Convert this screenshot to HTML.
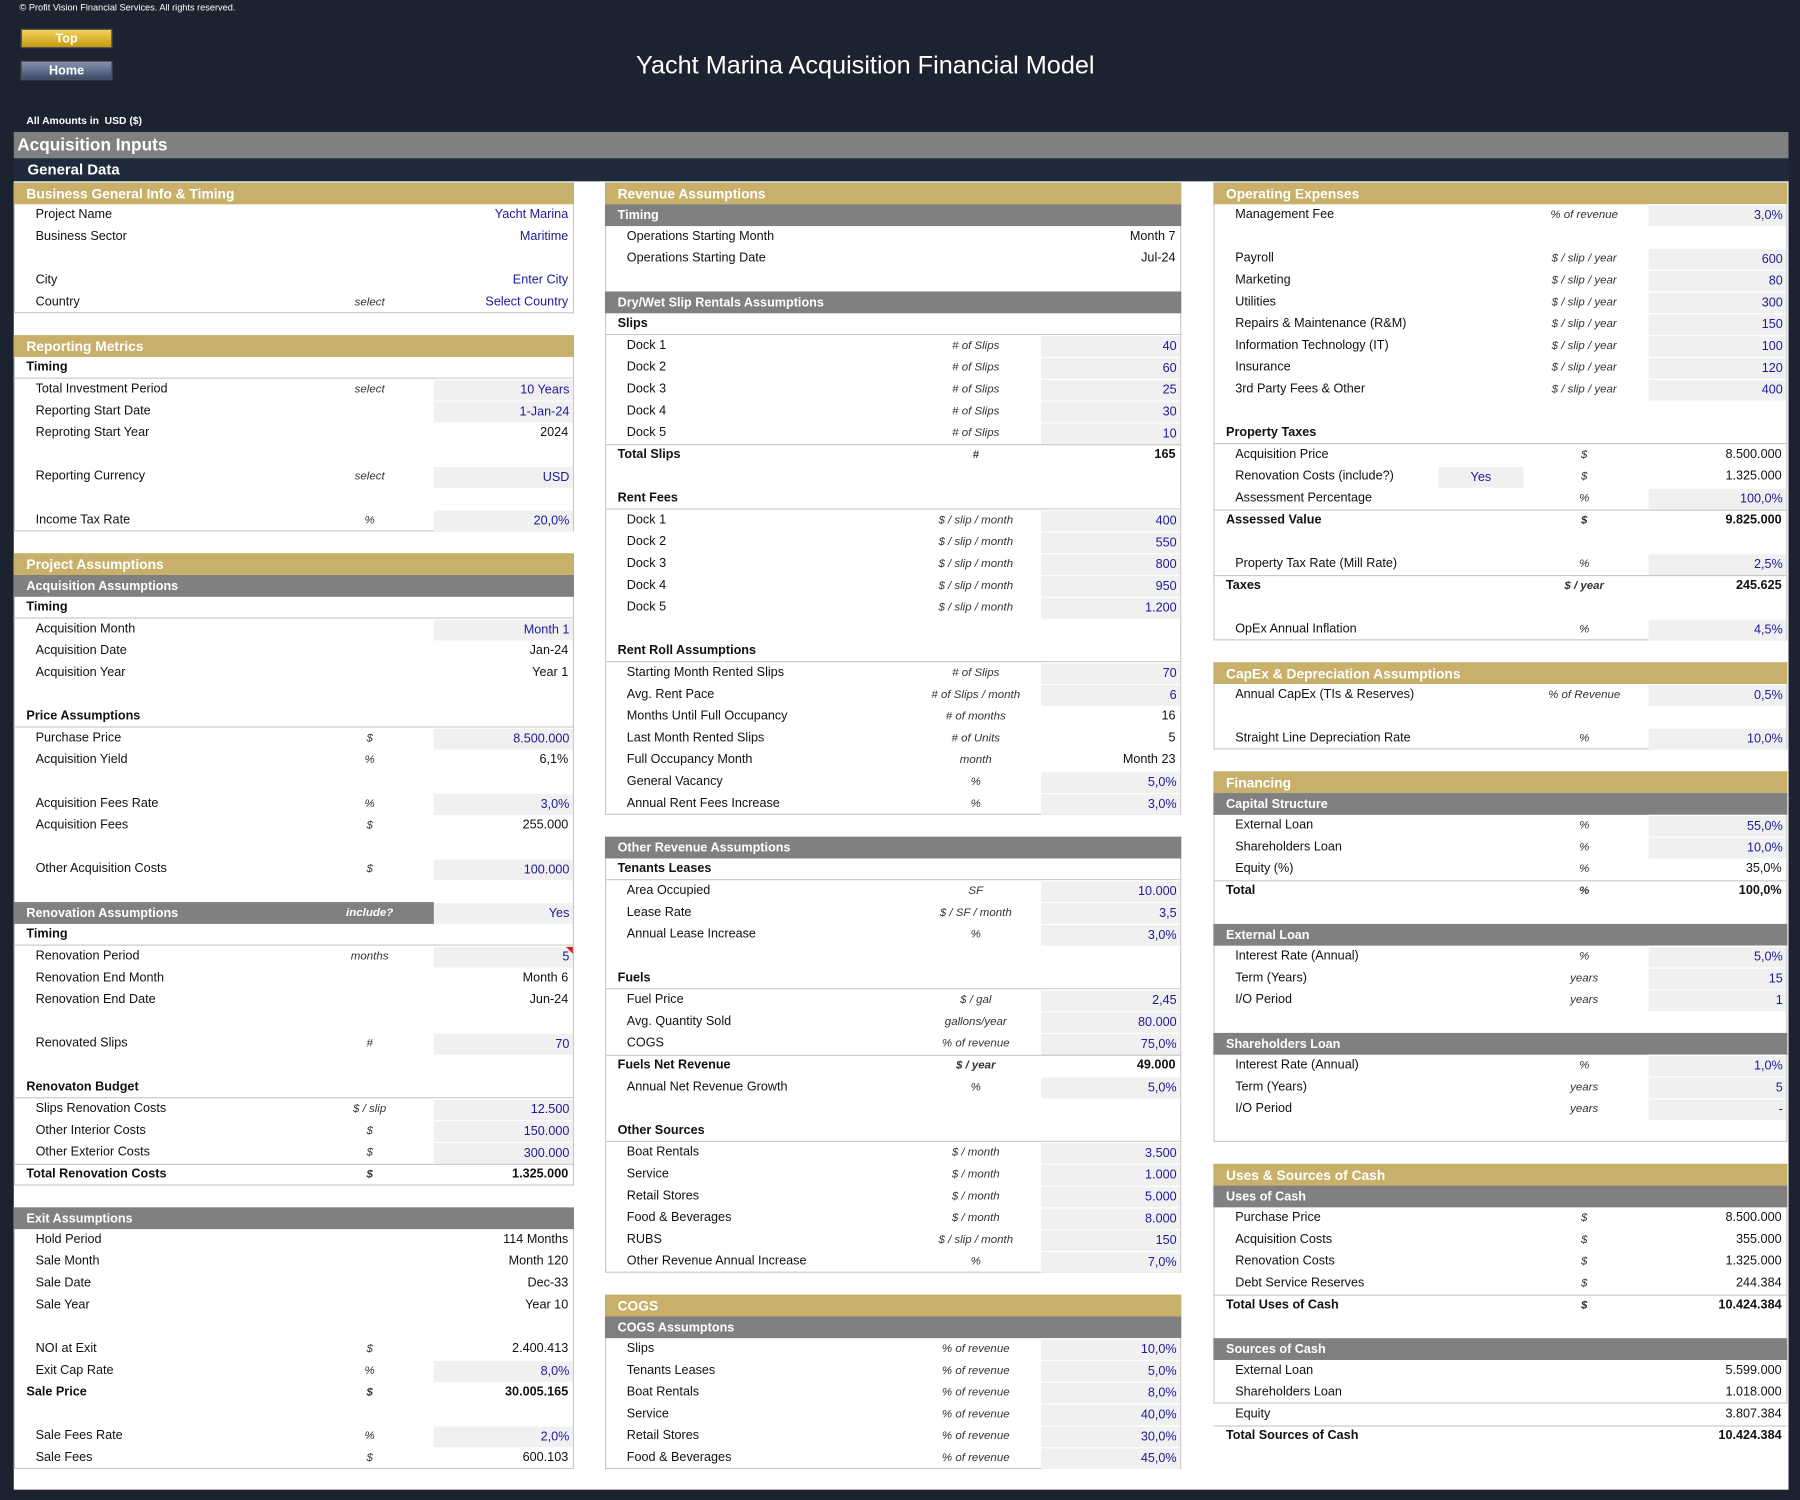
<!DOCTYPE html>
<html><head><meta charset="utf-8">
<style>
html,body{margin:0;padding:0;width:1800px;height:1500px;overflow:hidden;background:#1c2230;}
#root{position:absolute;left:0;top:0;width:1568px;height:1307px;transform:scale(1.14796,1.14767);transform-origin:0 0;background:#1c2230;font-family:"Liberation Sans",sans-serif;}
.a{position:absolute;white-space:nowrap;}
.btn{position:absolute;left:18px;width:80px;height:17px;font-weight:bold;font-size:11px;color:#fff;text-align:center;line-height:17px;border:1px solid #555;box-sizing:border-box;}
.t{font-size:11px;color:#111;line-height:19px;}
.u{font-size:10px;font-style:italic;color:#333;line-height:19px;text-align:center;width:110px;}
.v{font-size:11px;line-height:19px;text-align:right;}
.inp{background:#f0f0f0;border-top:1px solid #fff;box-sizing:border-box;}
</style></head><body>
<div id="root">
  <div class="a" style="left:17px;top:2px;font-size:8px;color:#fff;">© Profit Vision Financial Services. All rights reserved.</div>
  <div class="btn" style="top:25px;background:linear-gradient(#f2d35a,#c59a12);">Top</div>
  <div class="btn" style="top:53px;background:linear-gradient(#8593b0,#3c4a6a);">Home</div>
  <div class="a" style="left:554px;top:44px;font-size:22px;color:#fff;">Yacht Marina Acquisition Financial Model</div>
  <div class="a" style="left:23px;top:100px;font-size:9px;font-weight:bold;color:#fff;">All Amounts in&nbsp; USD ($)</div>
  <div class="a" style="left:12px;top:115px;width:1546px;height:23px;background:#808080;color:#fff;font-weight:bold;font-size:15px;line-height:23px;padding-left:3px;box-sizing:border-box;">Acquisition Inputs</div>
  <div class="a" style="left:12px;top:138px;width:1546px;height:20px;background:#1f2a3c;color:#fff;font-weight:bold;font-size:13px;line-height:20px;padding-left:12px;box-sizing:border-box;">General Data</div>
  <div class="a" style="left:12px;top:158px;width:1546px;height:1140px;background:#fff;"></div>
  <div id="cols"></div>
</div>
<script>
const cols=[
 {x:12,w:488,ux:267,ix:378,name:'column-left'},
 {x:527,w:502,ux:795,ix:907,name:'column-middle'},
 {x:1057,w:500,ux:1325,ix:1436,name:'column-right'}
];
const boxes=[[0,0,5],[0,7,15],[0,17,45],[0,47,58],[1,0,28],[1,30,49],[1,51,58],[2,0,20],[2,22,25],[2,27,43],[2,45,55]];
// [k,type,label,unit,value,input]
const col1=[
[0,'gold','Business General Info & Timing'],
[1,'row','Project Name','','Yacht Marina','b'],
[2,'row','Business Sector','','Maritime','b'],
[4,'row','City','','Enter City','b'],
[5,'row','Country','select','Select Country','b'],
[7,'gold','Reporting Metrics'],
[8,'sub','Timing'],
[9,'row','Total Investment Period','select','10 Years','i'],
[10,'row','Reporting Start Date','','1-Jan-24','i'],
[11,'row','Reprotign Start Year'.replace('Reprotign','Reproting'),'','2024'],
[13,'row','Reporting Currency','select','USD','i'],
[15,'row','Income Tax Rate','%','20,0%','i'],
[17,'gold','Project Assumptions'],
[18,'gray','Acquisition Assumptions'],
[19,'sub','Timing'],
[20,'row','Acquisition Month','','Month 1','i'],
[21,'row','Acquisition Date','','Jan-24'],
[22,'row','Acquisition Year','','Year 1'],
[24,'sub','Price Assumptions'],
[25,'row','Purchase Price','$','8.500.000','i'],
[26,'row','Acquisition Yield','%','6,1%'],
[28,'row','Acquisition Fees Rate','%','3,0%','i'],
[29,'row','Acquisition Fees','$','255.000'],
[31,'row','Other Acquisition Costs','$','100.000','i'],
[33,'grayi','Renovation Assumptions','include?','Yes','i'],
[34,'sub','Timing'],
[35,'row','Renovation Period','months','5','ir'],
[36,'row','Renovation End Month','','Month 6'],
[37,'row','Renovation End Date','','Jun-24'],
[39,'row','Renovated Slips','#','70','i'],
[41,'sub','Renovaton Budget'],
[42,'row','Slips Renovation Costs','$ / slip','12.500','i'],
[43,'row','Other Interior Costs','$','150.000','i'],
[44,'row','Other Exterior Costs','$','300.000','i'],
[45,'total','Total Renovation Costs','$','1.325.000'],
[47,'gray','Exit Assumptions'],
[48,'row','Hold Period','','114 Months'],
[49,'row','Sale Month','','Month 120'],
[50,'row','Sale Date','','Dec-33'],
[51,'row','Sale Year','','Year 10'],
[53,'row','NOI at Exit','$','2.400.413'],
[54,'row','Exit Cap Rate','%','8,0%','i'],
[55,'totalb','Sale Price','$','30.005.165'],
[57,'row','Sale Fees Rate','%','2,0%','i'],
[58,'row','Sale Fees','$','600.103']
];
const col2=[
[0,'gold','Revenue Assumptions'],
[1,'gray','Timing'],
[2,'row','Operations Starting Month','','Month 7'],
[3,'row','Operations Starting Date','','Jul-24'],
[5,'gray','Dry/Wet Slip Rentals Assumptions'],
[6,'sub','Slips'],
[7,'row','Dock 1','# of Slips','40','i'],
[8,'row','Dock 2','# of Slips','60','i'],
[9,'row','Dock 3','# of Slips','25','i'],
[10,'row','Dock 4','# of Slips','30','i'],
[11,'row','Dock 5','# of Slips','10','i'],
[12,'total','Total Slips','#','165'],
[14,'sub','Rent Fees'],
[15,'row','Dock 1','$ / slip / month','400','i'],
[16,'row','Dock 2','$ / slip / month','550','i'],
[17,'row','Dock 3','$ / slip / month','800','i'],
[18,'row','Dock 4','$ / slip / month','950','i'],
[19,'row','Dock 5','$ / slip / month','1.200','i'],
[21,'sub','Rent Roll Assumptions'],
[22,'row','Starting Month Rented Slips','# of Slips','70','i'],
[23,'row','Avg. Rent Pace','# of Slips / month','6','i'],
[24,'row','Months Until Full Occupancy','# of months','16'],
[25,'row','Last Month Rented Slips','# of Units','5'],
[26,'row','Full Occupancy Month','month','Month 23'],
[27,'row','General Vacancy','%','5,0%','i'],
[28,'row','Annual Rent Fees  Increase','%','3,0%','i'],
[30,'gray','Other Revenue Assumptions'],
[31,'sub','Tenants Leases'],
[32,'row','Area Occupied','SF','10.000','i'],
[33,'row','Lease Rate','$ / SF / month','3,5','i'],
[34,'row','Annual Lease Increase','%','3,0%','i'],
[36,'sub','Fuels'],
[37,'row','Fuel Price','$ / gal','2,45','i'],
[38,'row','Avg. Quantity Sold','gallons/year','80.000','i'],
[39,'row','COGS','% of revenue','75,0%','i'],
[40,'total','Fuels Net Revenue','$ / year','49.000'],
[41,'row','Annual Net Revenue Growth','%','5,0%','i'],
[43,'sub','Other Sources'],
[44,'row','Boat Rentals','$ / month','3.500','i'],
[45,'row','Service','$ / month','1.000','i'],
[46,'row','Retail Stores','$ / month','5.000','i'],
[47,'row','Food & Beverages','$ / month','8.000','i'],
[48,'row','RUBS','$ / slip / month','150','i'],
[49,'row','Other Revenue Annual Increase','%','7,0%','i'],
[51,'gold','COGS'],
[52,'gray','COGS Assumptons'],
[53,'row','Slips','% of revenue','10,0%','i'],
[54,'row','Tenants Leases','% of revenue','5,0%','i'],
[55,'row','Boat Rentals','% of revenue','8,0%','i'],
[56,'row','Service','% of revenue','40,0%','i'],
[57,'row','Retail Stores','% of revenue','30,0%','i'],
[58,'row','Food & Beverages','% of revenue','45,0%','i']
];
const col3=[
[0,'gold','Operating Expenses'],
[1,'row','Management Fee','% of revenue','3,0%','i'],
[3,'row','Payroll','$ / slip / year','600','i'],
[4,'row','Marketing','$ / slip / year','80','i'],
[5,'row','Utilities','$ / slip / year','300','i'],
[6,'row','Repairs & Maintenance (R&M)','$ / slip / year','150','i'],
[7,'row','Information Technology (IT)','$ / slip / year','100','i'],
[8,'row','Insurance','$ / slip / year','120','i'],
[9,'row','3rd Party Fees & Other','$ / slip / year','400','i'],
[11,'sub','Property Taxes'],
[12,'row','Acquisition Price','$','8.500.000'],
[13,'rowyes','Renovation Costs (include?)','$','1.325.000'],
[14,'row','Assessment Percentage','%','100,0%','i'],
[15,'total','Assessed Value','$','9.825.000'],
[17,'row','Property Tax Rate (Mill Rate)','%','2,5%','i'],
[18,'total','Taxes','$ / year','245.625'],
[20,'row','OpEx Annual Inflation','%','4,5%','i'],
[22,'gold','CapEx & Depreciation Assumptions'],
[23,'row','Annual CapEx (TIs & Reserves)','% of Revenue','0,5%','i'],
[25,'row','Straight Line Depreciation Rate','%','10,0%','i'],
[27,'gold','Financing'],
[28,'gray','Capital Structure'],
[29,'row','External Loan','%','55,0%','i'],
[30,'row','Shareholders Loan','%','10,0%','i'],
[31,'row','Equity (%)','%','35,0%'],
[32,'total','Total','%','100,0%'],
[34,'gray','External Loan'],
[35,'row','Interest Rate (Annual)','%','5,0%','i'],
[36,'row','Term (Years)','years','15','i'],
[37,'row','I/O Period','years','1','i'],
[39,'gray','Shareholders Loan'],
[40,'row','Interest Rate (Annual)','%','1,0%','i'],
[41,'row','Term (Years)','years','5','i'],
[42,'row','I/O Period','years','-','i'],
[45,'gold','Uses & Sources of Cash'],
[46,'gray','Uses of Cash'],
[47,'row','Purchase Price','$','8.500.000'],
[48,'row','Acquisition Costs','$','355.000'],
[49,'row','Renovation Costs','$','1.325.000'],
[50,'row','Debt Service Reserves','$','244.384'],
[51,'total','Total Uses of Cash','$','10.424.384'],
[53,'gray','Sources of Cash'],
[54,'row','External Loan','','5.599.000'],
[55,'row','Shareholders Loan','','1.018.000'],
[56,'row','Equity','','3.807.384'],
[57,'total','Total Sources of Cash','','10.424.384']
];
const ROW0=159, RH=19;
const host=document.getElementById('cols');
function slug(s){return s.toLowerCase().replace(/[^a-z0-9]+/g,'-').replace(/^-|-$/g,'');}
function mk(name,inter,css,txt,cls){
  const d=document.createElement('div');
  d.className='a'+(cls?' '+cls:'');
  
  
  d.style.cssText=css;
  if(txt!==undefined) d.textContent=txt;
  host.appendChild(d);return d;
}
boxes.forEach(b=>{const c=cols[b[0]];
  mk('section-box',false,`left:${c.x}px;top:${ROW0+RH*b[1]}px;width:${c.w}px;height:${RH*(b[2]-b[1]+1)}px;border:1px solid #c8c8c8;border-top:none;box-sizing:border-box;`);
});
[col1,col2,col3].forEach((rows,ci)=>{
  const c=cols[ci];
  rows.forEach(r=>{
    const [k,type,label,unit,val,flag]=r;
    const y=ROW0+RH*k; const n=slug(label);
    if(type==='gold'){
      mk(n+'-header',false,`left:${c.x}px;top:${y}px;width:${c.w}px;height:${RH}px;background:#c8b06a;color:#fff;font-weight:bold;font-size:12px;line-height:${RH+1}px;padding-left:11px;box-sizing:border-box;`,label);return;}
    if(type==='gray'||type==='grayi'){
      const w=type==='grayi'?c.ix-c.x:c.w;
      mk(n+'-subheader',false,`left:${c.x}px;top:${y}px;width:${w}px;height:${RH}px;background:#808080;color:#fff;font-weight:bold;font-size:11px;line-height:${RH+1}px;padding-left:11px;box-sizing:border-box;`,label);
      if(type==='grayi'){
        mk('include-label',false,`left:${c.ux}px;top:${y}px;color:#fff;font-weight:bold;`,unit,'u');
        mk('include-renovation-input',true,`left:${c.ix}px;top:${y}px;width:${c.x+c.w-c.ix-1}px;height:${RH}px;color:#1a1a9a;padding-right:3px;box-sizing:border-box;`,val,'v inp');
      }
      return;}
    const bold=(type==='sub'||type==='total'||type==='totalb');
    if(type==='sub') mk(n+'-line',false,`left:${c.x}px;top:${y+RH-1}px;width:${c.w}px;height:1px;background:#c8c8c8;`);
    if(type==='total') mk(n+'-line',false,`left:${c.x}px;top:${y}px;width:${c.w}px;height:1px;background:#c8c8c8;`);
    mk(n+'-label',false,`left:${c.x+(bold?11:19)}px;top:${y}px;font-weight:${bold?'bold':'normal'};`,label,'t');
    if(unit) mk(n+'-unit',false,`left:${c.ux}px;top:${y}px;${bold?'font-weight:bold;':''}`,unit,'u');
    if(type==='rowyes') mk('include-renovation-costs-input',true,`left:${c.x+196}px;top:${y}px;width:74px;height:${RH}px;color:#1a1a9a;text-align:center;`,'Yes','v inp');
    if(val!==undefined){
      const isIn=flag==='i'||flag==='ir', blue=isIn||flag==='b';
      const left=isIn?c.ix:c.x+c.w-200; const w=isIn?c.x+c.w-c.ix-1:198;
      mk(n+'-value',isIn||flag==='b',`left:${left}px;top:${y}px;width:${w}px;height:${RH}px;padding-right:3px;box-sizing:border-box;color:${blue?'#1a1a9a':'#111'};font-weight:${bold?'bold':'normal'};`,val,'v'+(isIn?' inp':''));
      if(flag==='ir') mk('comment-marker',false,`left:${c.x+c.w-7}px;top:${y+1}px;width:0;height:0;border-left:6px solid transparent;border-top:6px solid #d02020;`);
    }
  });
});
</script>
</body></html>
